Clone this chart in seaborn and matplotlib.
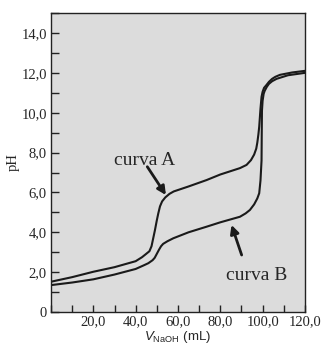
import numpy as np
import pandas as pd
import seaborn as sns
import matplotlib.pyplot as plt
from matplotlib.ticker import MultipleLocator, FixedLocator

# Titration curves (volume NaOH in mL, pH)
vol_a = [0, 10, 20, 30, 40, 43, 45, 46.5, 47.5, 48.3, 49.1, 50, 50.7, 51.5, 52.5, 54,
         56, 58, 65, 73.5, 80, 89.3, 92.4, 94.5, 96, 97, 97.5, 98, 98.4, 99, 99.5, 100,
         100.7, 101.9, 103, 104.5, 106, 108.2, 114, 120]
ph_a = [1.52, 1.75, 2.02, 2.25, 2.55, 2.75, 2.92, 3.05, 3.3, 3.7, 4.1, 4.6, 4.95, 5.3,
        5.55, 5.75, 5.93, 6.05, 6.3, 6.62, 6.9, 7.22, 7.38, 7.62, 7.9, 8.2, 8.5, 8.9,
        9.3, 10.2, 10.8, 11.05, 11.25, 11.4, 11.55, 11.7, 11.8, 11.9, 12.02, 12.1]

vol_b = [0, 10, 20, 30, 40, 44, 46, 48, 49, 50, 51, 52, 53, 55, 57.8, 65, 73.5, 80,
         89.3, 92, 94, 96, 97.5, 98.4, 99, 99.5, 99.6, 99.7, 100, 100.5, 101, 102, 103,
         104.5, 106.6, 112, 120]
ph_b = [1.35, 1.48, 1.64, 1.88, 2.16, 2.35, 2.45, 2.6, 2.72, 2.92, 3.12, 3.3, 3.42,
        3.55, 3.7, 4.0, 4.28, 4.5, 4.78, 4.95, 5.12, 5.4, 5.7, 5.96, 6.6, 7.6, 9.0,
        10.1, 10.6, 10.95, 11.1, 11.3, 11.45, 11.58, 11.7, 11.88, 12.0]

x_ticks = [20, 40, 60, 80, 100, 120]
x_labels = ["20,0", "40,0", "60,0", "80,0", "100,0", "120,0"]
y_ticks = [0, 2, 4, 6, 8, 10, 12, 14]
y_labels = ["0", "2,0", "4,0", "6,0", "8,0", "10,0", "12,0", "14,0"]

df_a = pd.DataFrame({"vol": vol_a, "ph": ph_a})
df_b = pd.DataFrame({"vol": vol_b, "ph": ph_b})

sns.set_style("ticks", {"axes.facecolor": "#dcdcdc", "axes.edgecolor": "#222222"})
plt.rcParams["font.family"] = ["Liberation Serif", "DejaVu Serif"]
plt.rcParams["mathtext.fontset"] = "custom"
plt.rcParams["mathtext.it"] = "Liberation Sans:italic"
plt.rcParams["mathtext.rm"] = "Liberation Sans"

fig = plt.figure(figsize=(3.23, 3.44), dpi=100)
ax = fig.add_axes([0.158, 0.093, 0.786, 0.869])

sns.lineplot(data=df_a, x="vol", y="ph", sort=False, estimator=None,
             color="#1a1a1a", linewidth=1.5, ax=ax)
sns.lineplot(data=df_b, x="vol", y="ph", sort=False, estimator=None,
             color="#1a1a1a", linewidth=1.5, ax=ax)

ax.set_xlim(0, 120)
ax.set_ylim(0, 15)

ax.xaxis.set_major_locator(FixedLocator(x_ticks))
ax.set_xticklabels(x_labels)
ax.xaxis.set_minor_locator(MultipleLocator(10))
ax.yaxis.set_major_locator(FixedLocator(y_ticks))
ax.set_yticklabels(y_labels)
ax.yaxis.set_minor_locator(MultipleLocator(1))

ax.tick_params(axis="both", which="both", direction="in", length=5.4,
               width=1, color="#222222", labelsize=10.5, pad=3)
ax.tick_params(axis="x", which="both", pad=2.5)
for sp in ax.spines.values():
    sp.set_linewidth(1)

ax.set_ylabel("pH", fontsize=10.5)
ax.yaxis.set_label_coords(-0.125, 0.5)
ax.set_xlabel(r"$V_{\mathrm{NaOH}}$ (mL)", fontsize=9.5,
              family=["Liberation Sans", "DejaVu Sans"])
ax.xaxis.set_label_coords(0.5, -0.057)

# labels and arrows
ax.text(44.4, 7.38, "curva A", fontsize=14, ha="center", va="baseline")
ax.text(97.1, 1.61, "curva B", fontsize=14, ha="center", va="baseline")
arrow = dict(arrowstyle="-|>,head_length=0.5,head_width=0.25",
             color="#1a1a1a", lw=2, shrinkA=0, shrinkB=0)
ax.annotate("", xy=(54.3, 5.87), xytext=(45.5, 7.29), arrowprops=arrow)
ax.annotate("", xy=(85.3, 4.37), xytext=(90.1, 2.86), arrowprops=arrow)

fig.savefig("out.png", dpi=100)
